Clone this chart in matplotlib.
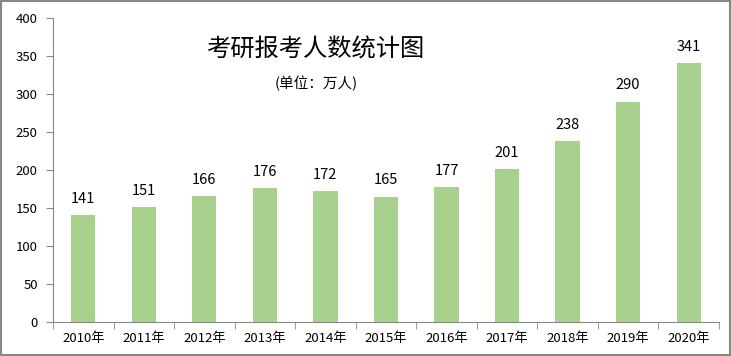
import matplotlib
matplotlib.use("Agg")
import matplotlib.pyplot as plt
from matplotlib.patches import Rectangle

plt.rcParams["font.family"] = ["Noto Sans CJK SC", "DejaVu Sans"]

years = ["2010年", "2011年", "2012年", "2013年", "2014年", "2015年",
         "2016年", "2017年", "2018年", "2019年", "2020年"]
applicants = [141, 151, 166, 176, 172, 165, 177, 201, 238, 290, 341]
y_ticks = [0, 50, 100, 150, 200, 250, 300, 350, 400]

fig = plt.figure(figsize=(7.31, 3.56), dpi=100)
ax = fig.add_axes([0.0725, 0.0955, 0.911, 0.854])

x = range(len(years))
ax.bar(x, applicants, width=0.4, color="#A9D18E")
for xi, val in zip(x, applicants):
    ax.text(xi, val + 12, str(val), ha="center", va="bottom", fontsize=10.5, color="black")

ax.set_xlim(-0.5, len(years) - 0.5)
ax.set_ylim(0, 400)
ax.set_yticks(y_ticks)
ax.set_yticklabels([str(t) for t in y_ticks], fontsize=9.5)
ax.set_xticks(list(x))
ax.set_xticklabels(years, fontsize=9.5)
ax.tick_params(axis="x", length=0, pad=7)
ax.set_xticks([i - 0.5 for i in range(len(years) + 1)], minor=True)
ax.tick_params(axis="x", which="minor", length=5, color="#888888", direction="out")
ax.tick_params(axis="y", length=5, color="#888888", direction="out", pad=6)

for side in ["top", "right"]:
    ax.spines[side].set_visible(False)
for side in ["left", "bottom"]:
    ax.spines[side].set_color("#888888")

fig.text(0.432, 0.86, "考研报考人数统计图", ha="center", va="center", fontsize=17.5)
fig.text(0.433, 0.767, "(单位：万人)", ha="center", va="center", fontsize=10.5)

fig.patches.append(Rectangle((0.001, 0.002), 0.997, 0.995, transform=fig.transFigure,
                             fill=False, edgecolor="#888888", linewidth=1.5))

fig.savefig("out.png", dpi=100)
